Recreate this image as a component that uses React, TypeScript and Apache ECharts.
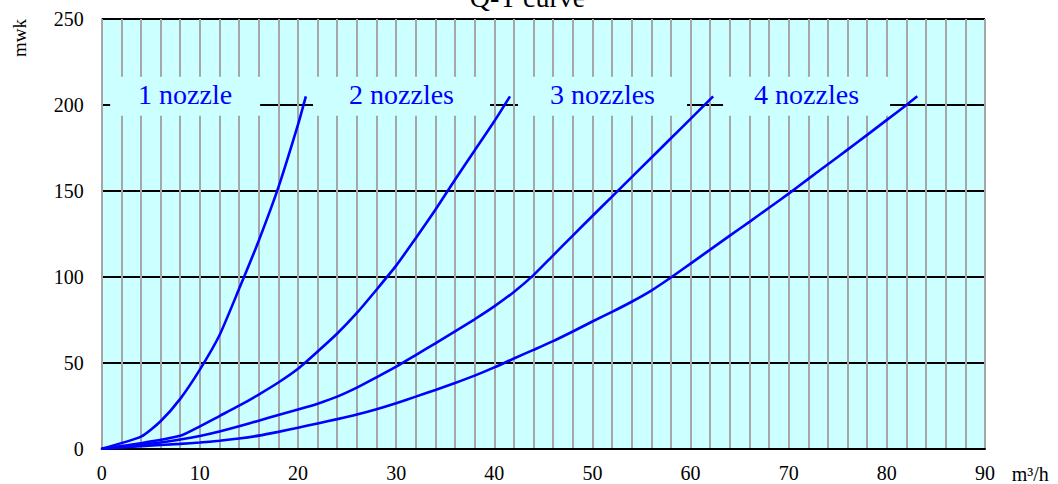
import React, { useEffect, useRef } from "react";
import * as echarts from "echarts";

const seriesNames = ["1 nozzle", "2 nozzles", "3 nozzles", "4 nozzles"];

const q1 = [0, 4, 6, 8, 10, 12, 14, 16, 18, 20, 20.8];
const h1 = [0, 7, 16, 29, 46, 66, 93, 121, 152, 188.5, 205];

const q2 = [0, 4, 8, 10, 12, 14, 16, 18, 20, 22, 24, 26, 28, 30, 32, 34, 36, 38, 40, 41.6];
const h2 = [0, 3.2, 7.5, 13, 19, 25, 31.5, 38.5, 46.5, 56.5, 67, 79, 92.5, 106.5, 122.5, 139, 156.5, 173.5, 190.5, 205];

const q3 = [0, 4, 6, 8, 10, 12, 14, 16, 18, 20, 22, 24, 26, 28, 30, 32, 34, 36, 38, 40, 42, 44, 46, 48, 50, 52, 54, 56, 58, 60, 62.3];
const h3 = [0, 2.2, 3.6, 5.3, 7.4, 10, 13, 16.3, 19.6, 22.8, 26.2, 30.3, 35.5, 41.5, 47.7, 54.5, 61.3, 68.2, 75.3, 82.8, 91.2, 101, 112.5, 124, 135.4, 146.7, 158, 169.3, 180.6, 191.9, 205];

const q4 = [0, 4, 8, 10, 12, 14, 16, 18, 20, 22, 24, 26, 28, 30, 32, 34, 36, 38, 40, 42, 44, 46, 48, 50, 52, 54, 56, 58, 60, 62, 64, 66, 68, 70, 72, 74, 76, 78, 80, 82, 83.1];
const h4 = [0, 1.5, 2.8, 3.6, 4.6, 5.9, 7.6, 9.8, 12.2, 14.7, 17.2, 19.9, 23, 26.5, 30.3, 34.2, 38.2, 42.5, 47.3, 52.5, 57.5, 62.6, 68.2, 74, 79.6, 85.5, 92, 99.6, 107.7, 115.8, 124, 132, 140.2, 148.4, 157, 165.5, 174, 182.6, 191.3, 200, 205];

// label anchor values (data units) for the series name boxes
const labelQ = [8.5, 30.55, 51.03, 71.82];
const labelH = [205, 205, 205, 205];

export default function App() {
  const ref = useRef<HTMLDivElement>(null);
  useEffect(() => {
    const chart = echarts.init(ref.current!, null, { renderer: "svg" });
    const font = "Liberation Serif";
    const qs = [q1, q2, q3, q4];
    const hs = [h1, h2, h3, h4];
    const boxW = [150, 177, 169, 167];
    chart.setOption({
      animation: false,
      backgroundColor: "#ffffff",
      grid: {
        left: 101.7,
        right: 73,
        top: 19,
        bottom: 35.3,
        show: true,
        backgroundColor: "#ccffff",
        borderWidth: 0,
      },
      xAxis: {
        type: "value",
        min: 0,
        max: 90,
        interval: 10,
        axisLine: { show: true, onZero: false, lineStyle: { color: "#000000", width: 2 } },
        axisTick: { show: false },
        axisLabel: { margin: 14, fontFamily: font, fontSize: 20, color: "#000000" },
        splitLine: { show: true, lineStyle: { color: "#a6a6a6", width: 2 } },
        minorTick: { show: false, splitNumber: 5 },
        minorSplitLine: { show: true, lineStyle: { color: "#a6a6a6", width: 2 } },
      },
      yAxis: {
        type: "value",
        min: 0,
        max: 250,
        interval: 50,
        axisLine: { show: false },
        axisTick: { show: false },
        axisLabel: { margin: 18, fontFamily: font, fontSize: 20, color: "#000000" },
        splitLine: { show: true, lineStyle: { color: "#000000", width: 2 } },
      },
      graphic: [
        {
          type: "text",
          x: 527.5,
          y: -2.5,
          style: { text: "Q-T curve", fontFamily: font, fontSize: 28, fill: "#000000", align: "center", verticalAlign: "middle" },
        },
        {
          type: "text",
          x: 19,
          y: 38,
          rotation: Math.PI / 2,
          style: { text: "mwk", fontFamily: font, fontSize: 19, fill: "#000000", align: "center", verticalAlign: "middle" },
        },
        {
          type: "text",
          x: 1011.7,
          y: 474,
          style: { text: "m³/h", fontFamily: font, fontSize: 20, fill: "#000000", align: "left", verticalAlign: "middle" },
        },
      ],
      series: seriesNames.map((name, i) => ({
        name,
        type: "line",
        data: qs[i].map((q, k) => [q, hs[i][k]]),
        showSymbol: false,
        smooth: 0.2,
        lineStyle: { color: "#0000ff", width: 2.6 },
        itemStyle: { color: "#0000ff" },
        markPoint: {
          silent: true,
          symbol: "rect",
          symbolSize: [boxW[i], 39],
          itemStyle: { color: "#ccffff" },
          label: {
            show: true,
            position: "inside",
            formatter: name,
            fontFamily: font,
            fontSize: 28,
            color: "#0000ff",
            offset: [0, -2],
          },
          data: [{ coord: [labelQ[i], labelH[i]] }],
        },
      })),
    });
    return () => chart.dispose();
  }, []);
  return <div ref={ref} style={{ position: "fixed", left: 0, top: 0, width: 1058, height: 484 }} />;
}
